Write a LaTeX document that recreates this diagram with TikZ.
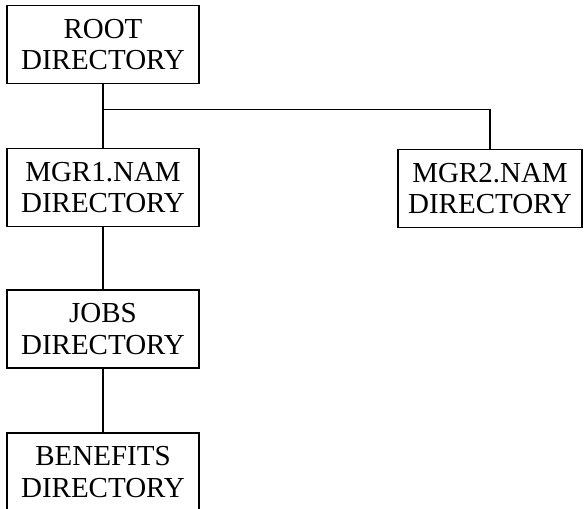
\documentclass[tikz,border=0pt]{standalone}
\usepackage{fontspec}
\setmainfont{Liberation Serif}
\usetikzlibrary{calc}
\begin{document}
\begin{tikzpicture}[x=1pt,y=-1pt,
  dirbox/.style={draw, line width=1.1pt, rectangle, align=center, inner sep=0pt,
    minimum width=192pt, minimum height=78pt,
    font=\fontsize{29}{31.5}\selectfont},
  link/.style={line width=1.1pt}]
\useasboundingbox (0,0) rectangle (585,508);
\clip (0,0) rectangle (585,508);
\node[dirbox] (root) at (103,44.5) {ROOT\\DIRECTORY};
\node[dirbox] (mgr1) at (103,187.5) {MGR1.NAM\\DIRECTORY};
\node[dirbox, minimum width=184pt] (mgr2) at (490,188.5) {MGR2.NAM\\DIRECTORY};
\node[dirbox] (jobs) at (103,329) {JOBS\\DIRECTORY};
\node[dirbox] (benefits) at (103,472) {BENEFITS\\DIRECTORY};
\coordinate (branch) at ($(root.south)+(0,25)$);
\draw[link] (root.south) -- (mgr1.north);
\draw[link] (branch) -| (mgr2.north);
\draw[link] (mgr1.south) -- (jobs.north);
\draw[link] (jobs.south) -- (benefits.north);
\end{tikzpicture}
\end{document}
